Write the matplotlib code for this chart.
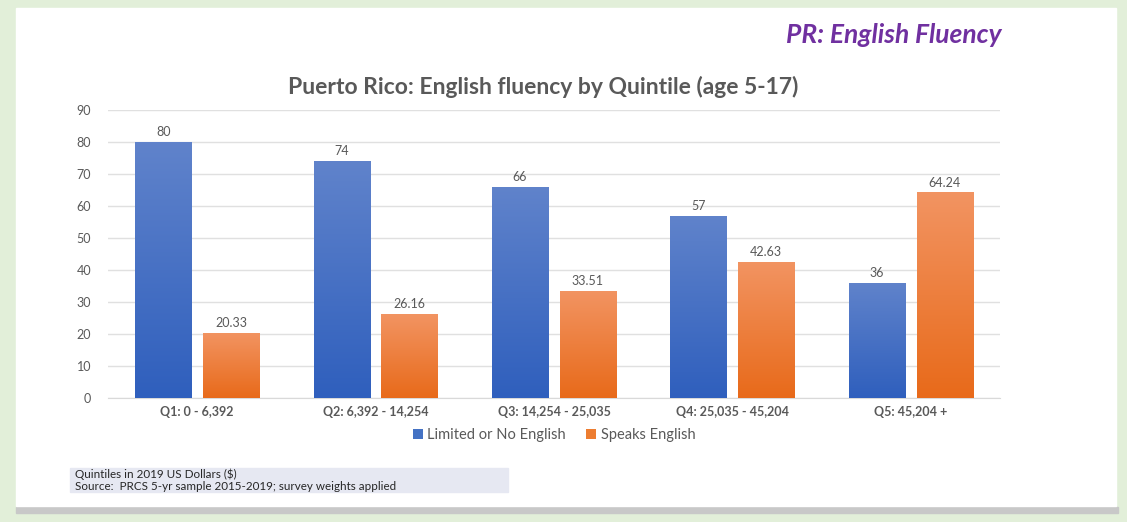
import numpy as np
import matplotlib.pyplot as plt
from matplotlib.colors import LinearSegmentedColormap
from matplotlib.patches import Rectangle

categories = ["Q1: 0 - 6,392", "Q2: 6,392 - 14,254", "Q3: 14,254 - 25,035",
              "Q4: 25,035 - 45,204", "Q5: 45,204 +"]
limited = [80, 74, 66, 57, 36]
speaks = [20.33, 26.16, 33.51, 42.63, 64.24]
limited_labels = ["80", "74", "66", "57", "36"]
speaks_labels = ["20.33", "26.16", "33.51", "42.63", "64.24"]

plt.rcParams['font.family'] = ['Lato', 'DejaVu Sans']

fig = plt.figure(figsize=(11.27, 5.22), dpi=100)
fig.patch.set_facecolor('#e2efd9')

# white panel with a soft shadow
fig.patches.append(Rectangle((16 / 1127, 1 - 513 / 522), 1102 / 1127, 6 / 522,
                             transform=fig.transFigure, color='#c8c8c8', zorder=-3))
fig.patches.append(Rectangle((16 / 1127, 1 - 506 / 522), 1100 / 1127, 498 / 522,
                             transform=fig.transFigure, color='white', zorder=-2))

ax = fig.add_axes([108 / 1127, 1 - 398 / 522, 892 / 1127, 288 / 522])
ax.set_facecolor('none')

x = np.arange(len(categories))
w = 0.315
off = 0.19
b1 = ax.bar(x - off, limited, w, color='#4472c4', zorder=2)
b2 = ax.bar(x + off, speaks, w, color='#ed7d31', zorder=2)

blue_cm = LinearSegmentedColormap.from_list('b', ['#2f5fbd', '#6083cb'])
orange_cm = LinearSegmentedColormap.from_list('o', ['#e86a1a', '#f29462'])
grad = np.linspace(0, 1, 256).reshape(-1, 1)
for bars, cm in ((b1, blue_cm), (b2, orange_cm)):
    for p in bars:
        x0, y0 = p.get_x(), p.get_y()
        im = ax.imshow(grad, cmap=cm, origin='lower', aspect='auto',
                       extent=(x0, x0 + p.get_width(), y0, y0 + p.get_height()), zorder=3)
        im.set_clip_path(p)

for p, t in zip(b1, limited_labels):
    ax.text(p.get_x() + p.get_width() / 2, p.get_height() + 1.2, t, ha='center',
            va='bottom', fontsize=9, color='#595959', zorder=4)
for p, t in zip(b2, speaks_labels):
    ax.text(p.get_x() + p.get_width() / 2, p.get_height() + 1.2, t, ha='center',
            va='bottom', fontsize=9, color='#595959', zorder=4)

ax.set_xlim(-0.5, len(categories) - 0.5)
ax.set_ylim(0, 90)
ax.set_yticks(range(0, 91, 10))
ax.set_xticks(x)
ax.set_xticklabels(categories, fontweight='bold')
ax.tick_params(axis='both', length=0, colors='#595959', labelsize=9)
ax.tick_params(axis='y', pad=12)
ax.tick_params(axis='x', pad=6)
ax.grid(axis='y', color='#e0e0e0', linewidth=1, zorder=0)
for s in ('top', 'right', 'left'):
    ax.spines[s].set_visible(False)
ax.spines['bottom'].set_color('#d9d9d9')

ax.legend([b1, b2], ["Limited or No English", "Speaks English"],
          loc='center', bbox_to_anchor=(0.5, 1 - (435 - 110) / 288), ncol=2,
          frameon=False, fontsize=10.5, handlelength=0.7, handleheight=0.7,
          handletextpad=0.3, columnspacing=1.4, labelcolor='#595959')

fig.text(543 / 1127, 1 - 87 / 522, "Puerto Rico: English fluency by Quintile (age 5-17)",
         ha='center', va='center', fontsize=16.5, fontweight='bold', color='#595959')
fig.text(1002 / 1127, 1 - 35 / 522, "PR: English Fluency", ha='right', va='center',
         fontsize=19, fontweight='bold', fontstyle='italic', color='#7030a0')

fig.patches.append(Rectangle((70 / 1127, 1 - 492 / 522), 438 / 1127, 24 / 522,
                             transform=fig.transFigure, color='#e6e8f2', zorder=-1))
fig.text(75 / 1127, 1 - 474 / 522, "Quintiles in 2019 US Dollars ($)", ha='left',
         va='center', fontsize=8.4, color='#262626')
fig.text(75 / 1127, 1 - 487 / 522, "Source:  PRCS 5-yr sample 2015-2019; survey weights applied",
         ha='left', va='center', fontsize=8.4, color='#262626')

fig.savefig('out.png', dpi=100, facecolor=fig.get_facecolor())
